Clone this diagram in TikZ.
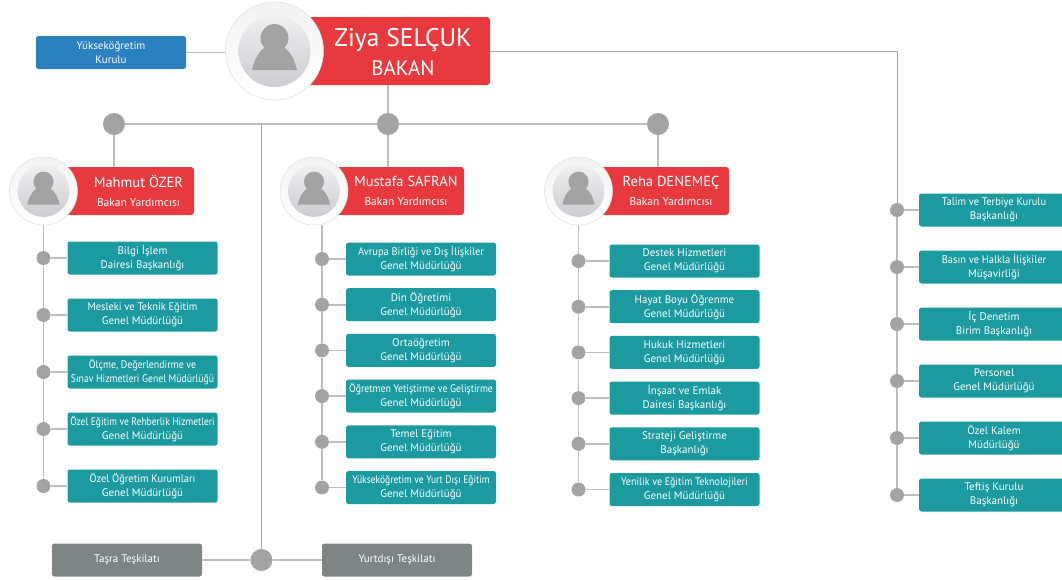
\documentclass[tikz,border=0pt]{standalone}
\usepackage{fontspec}
\usepackage{graphicx}
\setmainfont{PT Sans}
\definecolor{lineclr}{HTML}{BDBDBD}
\definecolor{dotclr}{HTML}{A3A3A3}
\definecolor{tealclr}{HTML}{1B9A9F}
\definecolor{redclr}{HTML}{E8393E}
\definecolor{blueclr}{HTML}{2B80C0}
\definecolor{grayclr}{HTML}{7D8685}
\newcommand{\person}[2]{
  \shade[top color=black!6,bottom color=blue!10!black!20,shift={(#1)},scale=#2] (0,0) circle [radius=36];
  \fill[dotclr,shift={(#1)},scale=#2] (0,-13) circle [radius=14];
  \fill[dotclr,shift={(#1)},scale=#2] (-22.5,19) .. controls (-19,4) and (-12,-6) .. (0,-6)
        .. controls (12,-6) and (19,4) .. (22.5,19) -- cycle;
}
\newcommand{\narrowed}[2]{\scalebox{#1}[1]{#2}}
\begin{document}
\begin{tikzpicture}[x=1pt,y=-1pt]
        \tikzstyle{line}=[draw=lineclr,line width=1.6pt]
        \tikzstyle{thinline}=[draw=dotclr,line width=1pt]
        \tikzstyle{dot}=[circle,fill=dotclr,inner sep=0pt,minimum size=14pt]
        \tikzstyle{bigdot}=[dot,minimum size=22pt]
        \tikzstyle{card}=[rectangle,rounded corners=2.5pt,fill=tealclr,text=white,minimum width=150pt,
                          minimum height=33pt,inner sep=0pt,align=center,font=\fontsize{11}{14}\selectfont,node distance=99pt]
        \tikzstyle{bluecard}=[card,fill=blueclr]
        \tikzstyle{graycard}=[card,fill=grayclr]
        \tikzstyle{redcard}=[rectangle,rounded corners=3pt,fill=redclr,minimum width=150pt,minimum height=48pt,inner sep=0pt]
        \tikzstyle{redtext}=[text=white,align=center,inner sep=0pt,font=\fontsize{14.5}{19}\selectfont]
        \tikzstyle{photo}=[circle,draw=black!12,line width=0.5pt,top color=black!5,bottom color=white,inner sep=0pt,minimum size=68pt]
        \useasboundingbox (0,0) rectangle (1062,579);

        % Bakan
        \node[redcard,minimum width=220pt,minimum height=68pt] (R0) at (380,51) { };
        \node[photo,minimum size=98pt] (P0) at (274.5,51) { };
        \person{P0}{1}
        \node[redtext] (T0) at (403,52) {\fontsize{25.5}{28}\selectfont Ziya SELÇUK\\[7pt]\fontsize{21}{29}\selectfont BAKAN};
        \node[bluecard] (Y0) at (111,52.5) {Yükseköğretim\\Kurulu};

        \node[bigdot] (H1) at (114,124) { };
        \node[bigdot] (H2) at (388,124) { };
        \node[bigdot] (H3) at (658,124) { };

        % Mahmut
        \node[redcard] (R1) at (119,191) { };
        \node[photo] (P1) at (43.5,191) { };
        \person{P1}{0.72}
        \node[redtext] (T1) at (138.5,191) {Mahmut ÖZER\\\fontsize{11.5}{19}\selectfont Bakan Yardımcısı};
        \begin{scope}[node distance=57pt]
        \node[dot]  (M1) at (43.5,258)   { };
        \node[dot]  (M2) [below of=M1]   { };
        \node[dot]  (M3) [below of=M2]   { };
        \node[dot]  (M4) [below of=M3]   { };
        \node[dot]  (M5) [below of=M4]   { };
        \end{scope}
        \node[card] (A1) [right of=M1]   {Bilgi İşlem\\Dairesi Başkanlığı};
        \node[card] (A2) [right of=M2]   {\narrowed{0.95}{Mesleki ve Teknik Eğitim}\\Genel Müdürlüğü};
        \node[card] (A3) [right of=M3]   {\narrowed{0.9}{Ölçme, Değerlendirme ve}\\\narrowed{0.885}{Sınav Hizmetleri Genel Müdürlüğü}};
        \node[card] (A4) [right of=M4]   {\narrowed{0.865}{Özel Eğitim ve Rehberlik Hizmetleri}\\Genel Müdürlüğü};
        \node[card] (A5) [right of=M5]   {\narrowed{0.95}{Özel Öğretim Kurumları}\\Genel Müdürlüğü};

        % Mustafa
        \node[redcard] (R2) at (389,191) { };
        \node[photo] (P2) at (314,191) { };
        \person{P2}{0.72}
        \node[redtext] (T2) at (406,191) {Mustafa SAFRAN\\\fontsize{11.5}{19}\selectfont Bakan Yardımcısı};
        \begin{scope}[node distance=45.7pt]
        \node[dot]  (U1) at (322,259)    { };
        \node[dot]  (U2) [below of=U1]   { };
        \node[dot]  (U3) [below of=U2]   { };
        \node[dot]  (U4) [below of=U3]   { };
        \node[dot]  (U5) [below of=U4]   { };
        \node[dot]  (U6) [below of=U5]   { };
        \end{scope}
        \node[card] (B1) [right of=U1]   {\narrowed{0.95}{Avrupa Birliği ve Dış İlişkiler}\\Genel Müdürlüğü};
        \node[card] (B2) [right of=U2]   {Din Öğretimi\\Genel Müdürlüğü};
        \node[card] (B3) [right of=U3]   {Ortaöğretim\\Genel Müdürlüğü};
        \node[card] (B4) [right of=U4]   {\narrowed{0.89}{Öğretmen Yetiştirme ve Geliştirme}\\Genel Müdürlüğü};
        \node[card] (B5) [right of=U5]   {Temel Eğitim\\Genel Müdürlüğü};
        \node[card] (B6) [right of=U6]   {\narrowed{0.867}{Yükseköğretim ve Yurt Dışı Eğitim}\\Genel Müdürlüğü};

        % Reha
        \node[redcard] (R3) at (654,191) { };
        \node[photo] (P3) at (578.5,191) { };
        \person{P3}{0.72}
        \node[redtext] (T3) at (671,191) {Reha DENEMEÇ\\\fontsize{11.5}{19}\selectfont Bakan Yardımcısı};
        \begin{scope}[node distance=45.7pt]
        \node[dot]  (E1) at (578.5,261)  { };
        \node[dot]  (E2) [below of=E1]   { };
        \node[dot]  (E3) [below of=E2]   { };
        \node[dot]  (E4) [below of=E3]   { };
        \node[dot]  (E5) [below of=E4]   { };
        \node[dot]  (E6) [below of=E5]   { };
        \end{scope}
        \begin{scope}[card/.append style={node distance=106pt}]
        \node[card] (C1) [right of=E1]   {Destek Hizmetleri\\Genel Müdürlüğü};
        \node[card] (C2) [right of=E2]   {Hayat Boyu Öğrenme\\Genel Müdürlüğü};
        \node[card] (C3) [right of=E3]   {Hukuk Hizmetleri\\Genel Müdürlüğü};
        \node[card] (C4) [right of=E4]   {İnşaat ve Emlak\\Dairesi Başkanlığı};
        \node[card] (C5) [right of=E5]   {Strateji Geliştirme\\Başkanlığı};
        \node[card] (C6) [right of=E6]   {\narrowed{0.91}{Yenilik ve Eğitim Teknolojileri}\\Genel Müdürlüğü};
        \end{scope}

        % Sag kolon
        \begin{scope}[node distance=57pt]
        \node[dot]  (S1) at (897,210)    { };
        \node[dot]  (S2) [below of=S1]   { };
        \node[dot]  (S3) [below of=S2]   { };
        \node[dot]  (S4) [below of=S3]   { };
        \node[dot]  (S5) [below of=S4]   { };
        \node[dot]  (S6) [below of=S5]   { };
        \end{scope}
        \begin{scope}[card/.append style={node distance=97pt}]
        \node[card] (D1) [right of=S1]   {\narrowed{0.95}{Talim ve Terbiye Kurulu}\\Başkanlığı};
        \node[card] (D2) [right of=S2]   {\narrowed{0.95}{Basın ve Halkla İlişkiler}\\Müşavirliği};
        \node[card] (D3) [right of=S3]   {İç Denetim\\Birim Başkanlığı};
        \node[card] (D4) [right of=S4]   {Personel\\Genel Müdürlüğü};
        \node[card] (D5) [right of=S5]   {Özel Kalem\\Müdürlüğü};
        \node[card] (D6) [right of=S6]   {Teftiş Kurulu\\Başkanlığı};
        \end{scope}

        % Alt
        \node[bigdot]   (G0) at (261.5,560) { };
        \node[graycard] (G1) at (127,560)   {Taşra Teşkilatı};
        \node[graycard] (G2) at (397,560)   {Yurtdışı Teşkilatı};

        \path[line]
                  (Y0) edge (Y0 -| P0.west)
                  (H2) edge (H2 |- R0.south)
                  (H1) edge (H2)
                  (H2) edge (H3)
                  (H1) edge (H1 |- R1.north)
                  (H2) edge (H2 |- R2.north)
                  (H3) edge (H3 |- R3.north)
                  (P1) edge (M1)
                  (M1) edge (M2)
                  (M2) edge (M3)
                  (M3) edge (M4)
                  (M4) edge (M5)
                  (M1) edge (A1)
                  (M2) edge (A2)
                  (M3) edge (A3)
                  (M4) edge (A4)
                  (M5) edge (A5)
                  (U1) edge (U1 |- P2.south)
                  (U1) edge (U2)
                  (U2) edge (U3)
                  (U3) edge (U4)
                  (U4) edge (U5)
                  (U5) edge (U6)
                  (U1) edge (B1)
                  (U2) edge (B2)
                  (U3) edge (B3)
                  (U4) edge (B4)
                  (U5) edge (B5)
                  (U6) edge (B6)
                  (P3) edge (E1)
                  (E1) edge (E2)
                  (E2) edge (E3)
                  (E3) edge (E4)
                  (E4) edge (E5)
                  (E5) edge (E6)
                  (E1) edge (C1)
                  (E2) edge (C2)
                  (E3) edge (C3)
                  (E4) edge (C4)
                  (E5) edge (C5)
                  (E6) edge (C6)
                  (S1) edge (S2)
                  (S2) edge (S3)
                  (S3) edge (S4)
                  (S4) edge (S5)
                  (S5) edge (S6)
                  (S1) edge (D1)
                  (S2) edge (D2)
                  (S3) edge (D3)
                  (S4) edge (D4)
                  (S5) edge (D5)
                  (S6) edge (D6)
                  (G0) edge (G1)
                  (G0) edge (G2);
        \draw[thinline] (R0) -| (S1);
        \draw[thinline] (G0) -- (G0 |- H1);
\end{tikzpicture}
\end{document}
